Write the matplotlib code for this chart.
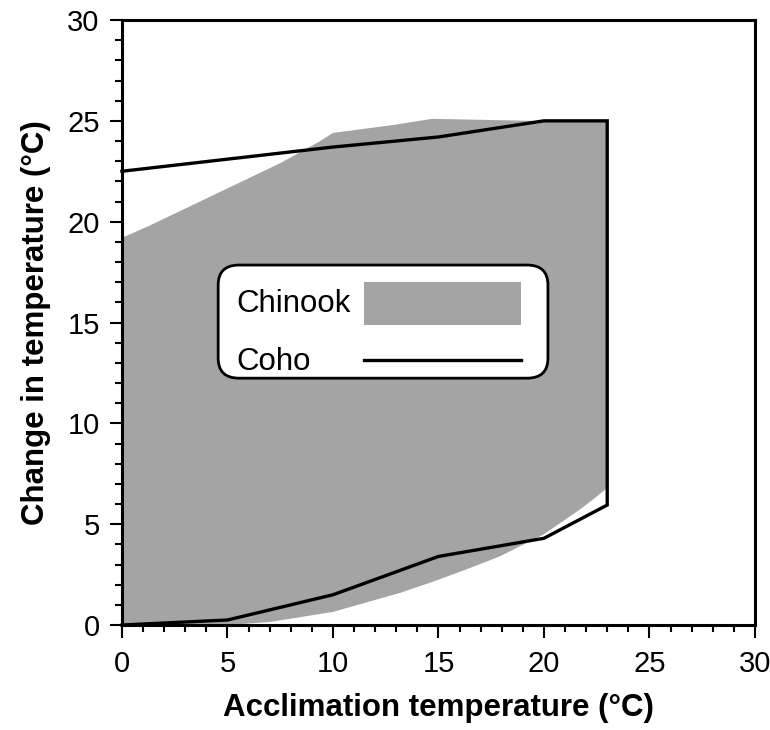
import matplotlib.pyplot as plt
from matplotlib.patches import FancyBboxPatch, Rectangle
from matplotlib.ticker import MultipleLocator

plt.rcParams['font.family'] = ['Liberation Sans', 'DejaVu Sans']

# Chinook : zone grisee (bord haut puis bord bas)
chinook_haut_x = [0, 1.3, 5, 7.5, 9.4, 10, 12.9, 14.7, 19.5, 23]
chinook_haut_y = [19.2, 19.8, 21.65, 22.9, 24.0, 24.4, 24.8, 25.1, 25.0, 25.0]
chinook_bas_x = [0, 5, 7, 10, 13.2, 14.75, 16.3, 17.9, 20, 21.6, 22.3, 23]
chinook_bas_y = [0, 0, 0.15, 0.65, 1.6, 2.15, 2.75, 3.4, 4.5, 5.65, 6.2, 6.8]

# Coho : contour en trait noir
coho_haut_x = [0, 5, 10, 15, 20, 23]
coho_haut_y = [22.5, 23.1, 23.7, 24.2, 25.0, 25.0]
coho_bas_x = [23, 20, 15, 10, 5, 0]
coho_bas_y = [5.95, 4.3, 3.4, 1.5, 0.25, 0]

noms_legende = ['Chinook', 'Coho']

gris = '#a4a4a4'

fig = plt.figure(figsize=(7.7, 7.3), dpi=100)
ax = fig.add_axes([0.1584, 0.1438, 0.822, 0.8288])

poly_x = chinook_haut_x + chinook_bas_x[::-1]
poly_y = chinook_haut_y + chinook_bas_y[::-1]
ax.fill(poly_x, poly_y, color=gris, lw=0, zorder=1)

ax.plot(coho_haut_x + coho_bas_x, coho_haut_y + coho_bas_y,
        color='black', lw=2.4, solid_joinstyle='miter', zorder=2, clip_on=False)

ax.set_xlim(0, 30)
ax.set_ylim(0, 30)
ax.xaxis.set_major_locator(MultipleLocator(5))
ax.xaxis.set_minor_locator(MultipleLocator(1))
ax.yaxis.set_major_locator(MultipleLocator(5))
ax.yaxis.set_minor_locator(MultipleLocator(1))
ax.tick_params(which='major', direction='out', length=9, width=1.5,
               labelsize=21, colors='black')
ax.tick_params(which='minor', direction='out', length=5, width=1.5)
ax.tick_params(axis='x', which='major', pad=9)
ax.tick_params(axis='y', which='major', pad=7)
for s in ax.spines.values():
    s.set_linewidth(2.2)

ax.set_xlabel('Acclimation temperature (°C)', fontsize=22.5, fontweight='bold', labelpad=11)
ax.set_ylabel('Change in temperature (°C)', fontsize=22.5, fontweight='bold', labelpad=12)

# legende dessinee a la main (texte a gauche, symbole a droite)
tr = ax.transAxes
cadre = FancyBboxPatch((0.152, 0.408), 0.521, 0.187,
                       boxstyle='round,pad=0,rounding_size=0.033',
                       transform=tr, facecolor='white', edgecolor='black',
                       lw=2.0, zorder=5)
ax.add_patch(cadre)
ax.add_patch(Rectangle((0.382, 0.496), 0.248, 0.071, transform=tr,
                       facecolor=gris, edgecolor='none', zorder=6))
ax.plot([0.382, 0.630], [0.4385, 0.4385], transform=tr, color='black',
        lw=2.4, zorder=6)
ax.text(0.180, 0.517, noms_legende[0], transform=tr, fontsize=22.5,
        va='baseline', ha='left', zorder=6)
ax.text(0.180, 0.4215, noms_legende[1], transform=tr, fontsize=22.5,
        va='baseline', ha='left', zorder=6)

plt.savefig('out.png')
